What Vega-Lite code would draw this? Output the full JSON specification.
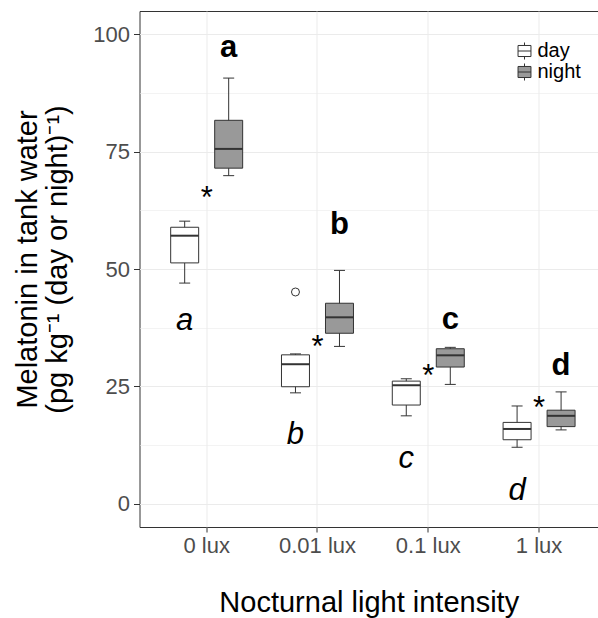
{
  "$schema": "https://vega.github.io/schema/vega-lite/v6.json",
  "autosize": {"type": "none"},
  "width": 458.5,
  "height": 516,
  "padding": {"left": 139.5, "top": 11, "right": 0, "bottom": 91},
  "background": "white",
  "config": {
    "font": "Liberation Sans",
    "view": {"stroke": "#333333", "strokeWidth": 1},
    "axis": {
      "labelFont": "Liberation Sans",
      "titleFont": "Liberation Sans",
      "labelFontSize": 22,
      "labelColor": "#4D4D4D",
      "titleFontSize": 29,
      "titleFontWeight": "normal",
      "titleColor": "#000000",
      "tickColor": "#333333",
      "domain": false,
      "gridColor": "#EBEBEB"
    },
    "legend": {
      "labelFont": "Liberation Sans",
      "rowPadding": -1
    }
  },
  "datasets": {
    "boxes": [
      {"light": "0 lux", "period": "day", "lower": 47.0, "q1": 51.3, "median": 57.1, "q3": 58.9, "upper": 60.2},
      {"light": "0 lux", "period": "night", "lower": 69.9, "q1": 71.5, "median": 75.6, "q3": 81.7, "upper": 90.7},
      {"light": "0.01 lux", "period": "day", "lower": 23.6, "q1": 24.9, "median": 29.7, "q3": 31.7, "upper": 31.9},
      {"light": "0.01 lux", "period": "night", "lower": 33.5, "q1": 36.3, "median": 39.7, "q3": 42.7, "upper": 49.7},
      {"light": "0.1 lux", "period": "day", "lower": 18.7, "q1": 21.0, "median": 25.2, "q3": 26.1, "upper": 26.6},
      {"light": "0.1 lux", "period": "night", "lower": 25.4, "q1": 29.1, "median": 31.6, "q3": 33.0, "upper": 33.3},
      {"light": "1 lux", "period": "day", "lower": 12.0, "q1": 13.6, "median": 15.9, "q3": 17.3, "upper": 20.8},
      {"light": "1 lux", "period": "night", "lower": 15.7, "q1": 16.4, "median": 18.7, "q3": 19.9, "upper": 23.8}
    ],
    "outliers": [
      {"light": "0.01 lux", "period": "day", "melatonin": 45.1}
    ],
    "letters": [
      {"light": "0 lux", "period": "day", "label": "a", "pos": 37.1},
      {"light": "0.01 lux", "period": "day", "label": "b", "pos": 12.8},
      {"light": "0.1 lux", "period": "day", "label": "c", "pos": 7.5},
      {"light": "1 lux", "period": "day", "label": "d", "pos": 0.7},
      {"light": "0 lux", "period": "night", "label": "a", "pos": 95.2},
      {"light": "0.01 lux", "period": "night", "label": "b", "pos": 57.5},
      {"light": "0.1 lux", "period": "night", "label": "c", "pos": 37.3},
      {"light": "1 lux", "period": "night", "label": "d", "pos": 27.3}
    ],
    "stars": [
      {"light": "0 lux", "label": "*", "pos": 63.1},
      {"light": "0.01 lux", "label": "*", "pos": 31.2},
      {"light": "0.1 lux", "label": "*", "pos": 25.1},
      {"light": "1 lux", "label": "*", "pos": 18.2}
    ]
  },
  "encoding": {
    "x": {
      "field": "light",
      "type": "nominal",
      "sort": ["0 lux", "0.01 lux", "0.1 lux", "1 lux"],
      "scale": {"paddingInner": 0, "paddingOuter": 0.069, "align": 0.77},
      "axis": {
        "title": "Nocturnal light intensity",
        "labelAngle": 0,
        "labelPadding": 3,
        "tickSize": 5,
        "grid": true,
        "bandPosition": 0.5,
        "titleY": 84.7,
        "titleBaseline": "alphabetic"
      }
    }
  },
  "layer": [
    {
      "data": {"name": "boxes"},
      "mark": {"type": "rule", "color": "#333333", "strokeWidth": 1},
      "encoding": {
        "xOffset": {"field": "period", "type": "nominal", "scale": {"domain": ["day", "night"], "paddingInner": 0.364, "paddingOuter": 0.441}},
        "y": {
          "field": "lower",
          "type": "quantitative",
          "scale": {"domain": [-5, 105], "nice": false, "zero": false},
          "axis": {
            "title": ["Melatonin in tank water", "(pg kg⁻¹ (day or night)⁻¹)"],
            "values": [0, 12.5, 25, 37.5, 50, 62.5, 75, 87.5, 100],
            "labelExpr": "datum.value % 25 === 0 ? datum.label : ''",
            "tickSize": 6,
            "labelPadding": 4,
            "tickColor": {"condition": {"test": "datum.value % 25 !== 0", "value": "transparent"}, "value": "#333333"},
            "gridWidth": {"condition": {"test": "datum.value % 25 !== 0", "value": 0.6}, "value": 1},
            "titleAngle": -90,
            "titleAlign": "center",
            "titleBaseline": "middle",
            "titleLineHeight": 30,
            "titleX": -112,
            "titleY": 248
          }
        },
        "y2": {"field": "upper"}
      }
    },
    {
      "data": {"name": "boxes"},
      "mark": {"type": "bar", "stroke": "#333333", "strokeWidth": 1},
      "encoding": {
        "xOffset": {"field": "period", "type": "nominal", "scale": {"domain": ["day", "night"], "paddingInner": 0.364, "paddingOuter": 0.441}},
        "y": {"field": "q1", "type": "quantitative"},
        "y2": {"field": "q3"},
        "fill": {
          "field": "period",
          "type": "nominal",
          "scale": {"domain": ["day", "night"], "range": ["#FFFFFF", "#999999"]},
          "legend": {
            "title": null,
            "orient": "none",
            "legendX": 375,
            "legendY": 30,
            "padding": 0,
            "symbolType": "M-0.76,-0.65H0.76V0.65H-0.76Z M-0.76,0H0.76 M0,-0.65V-1 M0,0.65V1",
            "symbolSize": 289,
            "symbolStrokeColor": "#333333",
            "symbolStrokeWidth": 1,
            "labelFontSize": 20,
            "labelColor": "#000000",
            "labelOffset": 3
          }
        }
      }
    },
    {
      "data": {"name": "boxes"},
      "mark": {"type": "tick", "size": 28, "thickness": 2, "color": "#333333", "opacity": 1},
      "encoding": {
        "xOffset": {"field": "period", "type": "nominal", "scale": {"domain": ["day", "night"], "paddingInner": 0.364, "paddingOuter": 0.441}},
        "y": {"field": "median", "type": "quantitative"}
      }
    },
    {
      "data": {"name": "boxes"},
      "transform": [{"fold": ["lower", "upper"], "as": ["end", "whisker"]}],
      "mark": {"type": "tick", "size": 11, "thickness": 1, "color": "#333333", "opacity": 1},
      "encoding": {
        "xOffset": {"field": "period", "type": "nominal", "scale": {"domain": ["day", "night"], "paddingInner": 0.364, "paddingOuter": 0.441}},
        "y": {"field": "whisker", "type": "quantitative"}
      }
    },
    {
      "data": {"name": "outliers"},
      "mark": {"type": "point", "shape": "circle", "size": 64, "filled": false, "stroke": "#333333", "strokeWidth": 1, "opacity": 1},
      "encoding": {
        "xOffset": {"field": "period", "type": "nominal", "scale": {"domain": ["day", "night"], "paddingInner": 0.364, "paddingOuter": 0.441}},
        "y": {"field": "melatonin", "type": "quantitative"}
      }
    },
    {
      "data": {"name": "letters"},
      "transform": [{"filter": "datum.period === 'night'"}],
      "mark": {"type": "text", "font": "Liberation Sans", "fontSize": 31, "fontWeight": "bold", "align": "center", "baseline": "alphabetic", "color": "#000000"},
      "encoding": {
        "xOffset": {"field": "period", "type": "nominal", "scale": {"domain": ["day", "night"], "paddingInner": 0.364, "paddingOuter": 0.441}},
        "y": {"field": "pos", "type": "quantitative"},
        "text": {"field": "label"}
      }
    },
    {
      "data": {"name": "letters"},
      "transform": [{"filter": "datum.period === 'day'"}],
      "mark": {"type": "text", "font": "Liberation Sans", "fontSize": 31, "fontStyle": "italic", "align": "center", "baseline": "alphabetic", "color": "#000000"},
      "encoding": {
        "xOffset": {"field": "period", "type": "nominal", "scale": {"domain": ["day", "night"], "paddingInner": 0.364, "paddingOuter": 0.441}},
        "y": {"field": "pos", "type": "quantitative"},
        "text": {"field": "label"}
      }
    },
    {
      "data": {"name": "stars"},
      "mark": {"type": "text", "font": "Liberation Sans", "fontSize": 31, "align": "center", "baseline": "alphabetic", "color": "#000000"},
      "encoding": {
        "y": {"field": "pos", "type": "quantitative"},
        "text": {"field": "label"}
      }
    }
  ]
}
